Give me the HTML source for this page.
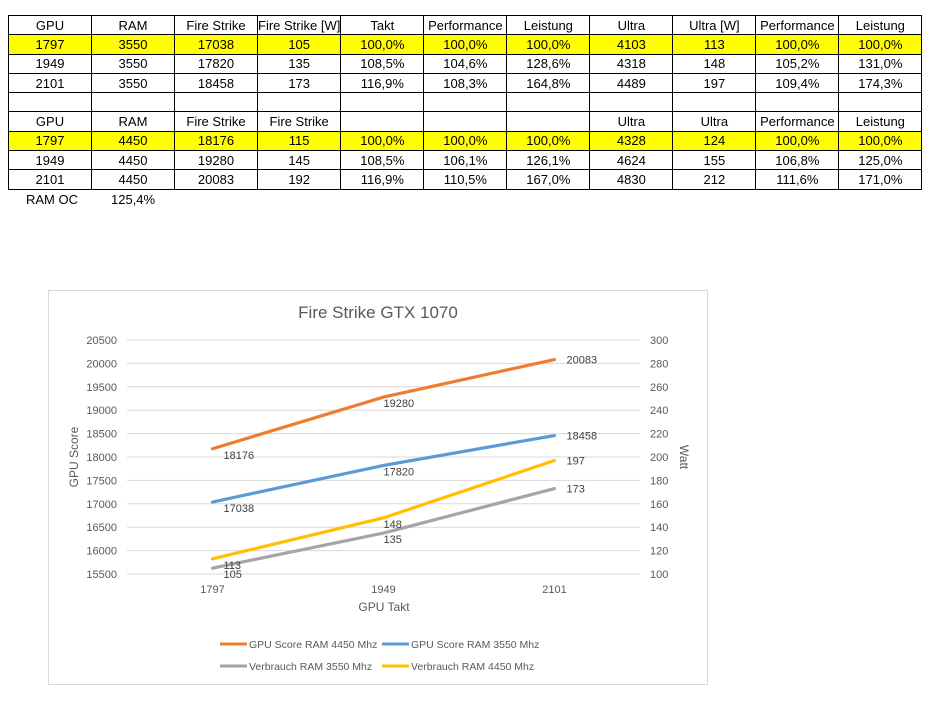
<!DOCTYPE html>
<html><head><meta charset="utf-8"><style>
body{margin:0;width:947px;height:708px;background:#fff;font-family:"Liberation Sans",sans-serif;position:relative;overflow:hidden}
table{position:absolute;left:8px;top:15px;border-collapse:collapse;table-layout:fixed}
td{border:1px solid #000;width:82px;height:18.3px;padding:0;text-align:center;font-size:13px;white-space:nowrap;overflow:hidden}
tr.y td{background:#ffff00}
#ramoc{position:absolute;top:192px;left:26px;font-size:13px}
#ramv{position:absolute;top:192px;left:111px;font-size:13px}
#chart{position:absolute;left:0;top:0}
</style></head><body>
<table>
<tr><td>GPU</td><td>RAM</td><td>Fire Strike</td><td>Fire Strike [W]</td><td>Takt</td><td>Performance</td><td>Leistung</td><td>Ultra</td><td>Ultra [W]</td><td>Performance</td><td>Leistung</td></tr>
<tr class="y"><td>1797</td><td>3550</td><td>17038</td><td>105</td><td>100,0%</td><td>100,0%</td><td>100,0%</td><td>4103</td><td>113</td><td>100,0%</td><td>100,0%</td></tr>
<tr><td>1949</td><td>3550</td><td>17820</td><td>135</td><td>108,5%</td><td>104,6%</td><td>128,6%</td><td>4318</td><td>148</td><td>105,2%</td><td>131,0%</td></tr>
<tr><td>2101</td><td>3550</td><td>18458</td><td>173</td><td>116,9%</td><td>108,3%</td><td>164,8%</td><td>4489</td><td>197</td><td>109,4%</td><td>174,3%</td></tr>
<tr><td></td><td></td><td></td><td></td><td></td><td></td><td></td><td></td><td></td><td></td><td></td></tr>
<tr><td>GPU</td><td>RAM</td><td>Fire Strike</td><td>Fire Strike</td><td></td><td></td><td></td><td>Ultra</td><td>Ultra</td><td>Performance</td><td>Leistung</td></tr>
<tr class="y"><td>1797</td><td>4450</td><td>18176</td><td>115</td><td>100,0%</td><td>100,0%</td><td>100,0%</td><td>4328</td><td>124</td><td>100,0%</td><td>100,0%</td></tr>
<tr><td>1949</td><td>4450</td><td>19280</td><td>145</td><td>108,5%</td><td>106,1%</td><td>126,1%</td><td>4624</td><td>155</td><td>106,8%</td><td>125,0%</td></tr>
<tr><td>2101</td><td>4450</td><td>20083</td><td>192</td><td>116,9%</td><td>110,5%</td><td>167,0%</td><td>4830</td><td>212</td><td>111,6%</td><td>171,0%</td></tr>
</table>
<div id="ramoc">RAM OC</div>
<div id="ramv">125,4%</div>
<svg id="chart" width="947" height="708" font-family="Liberation Sans, sans-serif">
<rect x="48.5" y="290.5" width="659" height="394" fill="#fff" stroke="#d9d9d9"/>
<text x="378" y="318" text-anchor="middle" font-size="17" fill="#595959">Fire Strike GTX 1070</text>
<g id="g"></g>
</svg>
<script>
const categories=[1797,1949,2101];
const leftTicks=[15500,16000,16500,17000,17500,18000,18500,19000,19500,20000,20500];
const rightTicks=[100,120,140,160,180,200,220,240,260,280,300];
const score4450=[18176,19280,20083];
const score3550=[17038,17820,18458];
const watt3550=[105,135,173];
const watt4450=[113,148,197];
const X0=127,X1=640,YT=340,YB=574;
const xs=i=>X0+(X1-X0)*(i+0.5)/categories.length;
const yl=v=>YB-(v-15500)/5000*(YB-YT);
const yr=v=>YB-(v-100)/200*(YB-YT);
const NS='http://www.w3.org/2000/svg',g=document.getElementById('g');
function mk(t,a){const e=document.createElementNS(NS,t);for(const k in a)e.setAttribute(k,a[k]);g.appendChild(e);return e;}
leftTicks.forEach(v=>{
 const l=mk('line',{x1:X0,x2:X1,y1:yl(v),y2:yl(v),stroke:'#d9d9d9'});
 
 
 const t=mk('text',{x:117,y:yl(v)+4,'text-anchor':'end','font-size':11,fill:'#595959'});t.textContent=v;
 
 
});
rightTicks.forEach(v=>{
 const t=mk('text',{x:650,y:yr(v)+4,'font-size':11,fill:'#595959'});t.textContent=v;
 
 
});
categories.forEach((c,i)=>{
 const t=mk('text',{x:xs(i),y:593,'text-anchor':'middle','font-size':11,fill:'#595959'});t.textContent=c;
 
 
});
let t=mk('text',{x:384,y:611,'text-anchor':'middle','font-size':12,fill:'#595959'});t.textContent='GPU Takt';


t=mk('text',{x:0,y:0,transform:'translate(78,457) rotate(-90)','text-anchor':'middle','font-size':12,fill:'#595959'});t.textContent='GPU Score';


t=mk('text',{x:0,y:0,transform:'translate(680,457) rotate(90)','text-anchor':'middle','font-size':12,fill:'#595959'});t.textContent='Watt';


const series=[[score4450,yl,'#ed7d31','series-score-4450'],[score3550,yl,'#5b9bd5','series-score-3550'],[watt3550,yr,'#a5a5a5','series-watt-3550'],[watt4450,yr,'#ffc000','series-watt-4450']];
series.forEach(([d,f,c,n])=>{
 const p=mk('polyline',{points:d.map((v,i)=>xs(i)+','+f(v)).join(' '),fill:'none',stroke:c,'stroke-width':3.2,'stroke-linecap':'round'});
 
 
 d.forEach((v,i)=>{
  const l=mk('text',{x:xs(i)+(i==2?12:0)+(i==0?11:0),y:f(v)+(i==2?4:10),'font-size':11,fill:'#404040'});l.textContent=v;
  
  
 });
});
const leg=[['GPU Score RAM 4450 Mhz','#ed7d31',220,644],['GPU Score RAM 3550 Mhz','#5b9bd5',382,644],['Verbrauch RAM 3550 Mhz','#a5a5a5',220,666],['Verbrauch RAM 4450 Mhz','#ffc000',382,666]];
leg.forEach(([s,c,x,y])=>{
 const l=mk('line',{x1:x,x2:x+27,y1:y,y2:y,stroke:c,'stroke-width':3});
 
 
 const tx=mk('text',{x:x+29,y:y+4,'font-size':10.5,fill:'#595959'});tx.textContent=s;
 
 
});
</script>
</body></html>
